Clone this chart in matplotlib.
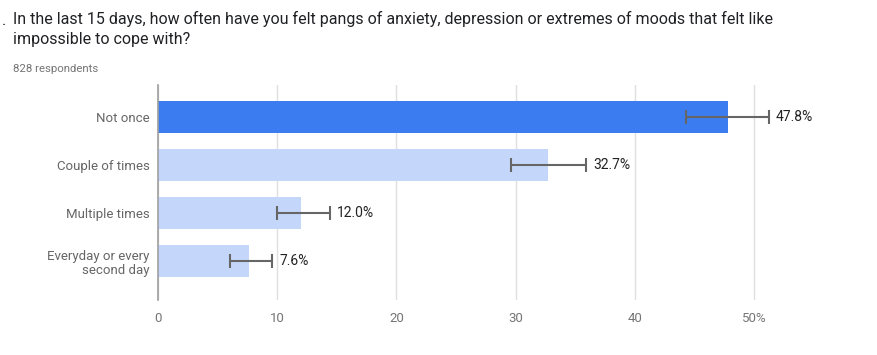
import matplotlib
matplotlib.use("Agg")
import matplotlib.pyplot as plt
import numpy as np

plt.rcParams['font.family'] = ['Roboto', 'DejaVu Sans']

#chart data
categories = ["Not once", "Couple of times", "Multiple times", "Everyday or every\nsecond day"]
percents = [47.8, 32.7, 12.0, 7.6]
err_low = [44.3, 29.6, 10.0, 6.0]
err_high = [51.2, 35.9, 14.4, 9.6]
xticks = [0, 10, 20, 30, 40, 50]
xtick_labels = ["0", "10", "20", "30", "40", "50%"]

title = "In the last 15 days, how often have you felt pangs of anxiety, depression or extremes of moods that felt like\nimpossible to cope with?"
subtitle = "828 respondents"

fig = plt.figure(figsize=(8.77, 3.55), dpi=100)
ax = fig.add_axes([158/877, 55/355, 632/877, 215/355])

y = np.arange(len(categories))
colors = ["#3b7cf0"] + ["#c4d7fb"] * (len(categories) - 1)
ax.barh(y, percents, height=0.667, color=colors, zorder=2)

lo = np.array(percents) - np.array(err_low)
hi = np.array(err_high) - np.array(percents)
ax.errorbar(percents, y, xerr=[lo, hi], fmt='none', ecolor="#666666",
            elinewidth=1.5, capsize=5, capthick=1.5, zorder=3)

for yi, h, p in zip(y, err_high, percents):
  ax.annotate(f"{p:.1f}%", (h, yi), xytext=(5, 0), textcoords='offset points',
              va='center', ha='left', fontsize=10, color="#222222")

ax.set_xlim(0, 53)
ax.set_ylim(3.81, -0.667)
ax.set_xticks(xticks)
ax.set_xticklabels(xtick_labels, fontsize=9.5, color="#757575")
ax.set_yticks(y)
ax.set_yticklabels(categories, fontsize=9.5, color="#666666", linespacing=1.1)
ax.tick_params(axis='both', length=0, pad=6)
ax.tick_params(axis='x', pad=9)
ax.grid(axis='x', color="#e0e0e0", linewidth=1, zorder=0)
ax.set_axisbelow(True)
for s in ['top', 'right', 'bottom']:
  ax.spines[s].set_visible(False)
ax.spines['left'].set_color("#9e9e9e")
ax.spines['left'].set_linewidth(1.2)
ax.spines['left'].set_zorder(4)

#title text
fig.text(2/877, 1 - 25/355, ".", fontsize=12, color="#202124", va='baseline', ha='left')
fig.text(13/877, 1 - 29/355, title, fontsize=11.5, color="#202124", va='center', ha='left', linespacing=1.4)
fig.text(13/877, 1 - 69/355, subtitle, fontsize=8.2, color="#757575", va='center', ha='left')

fig.savefig("out.png", dpi=100)
